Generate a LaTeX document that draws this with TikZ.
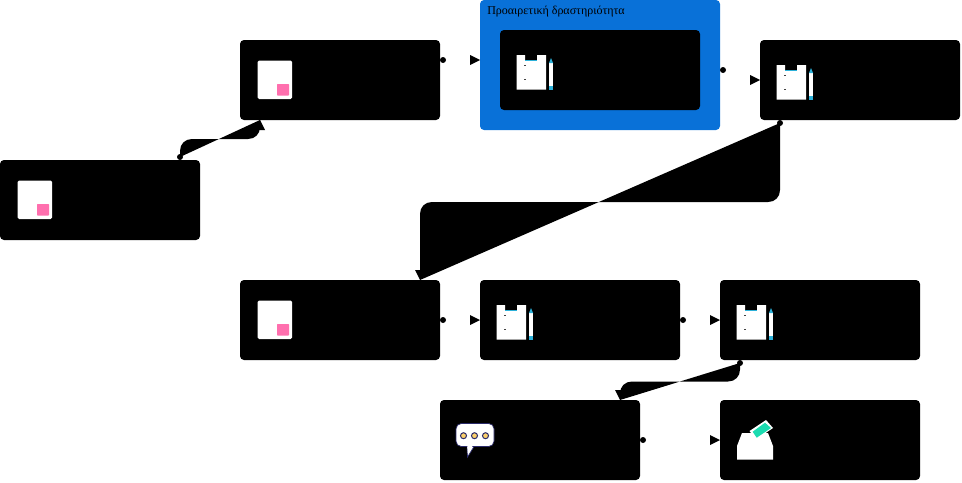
\documentclass[tikz,border=0pt]{standalone}
\usepackage{fontspec}
\setmainfont{Liberation Serif}
\usetikzlibrary{calc}
\definecolor{panelblue}{HTML}{0971D8}
\definecolor{pinksq}{HTML}{FF6FAE}
\definecolor{tealink}{HTML}{2BB0D8}
\definecolor{ticket}{HTML}{1BDBB0}
\definecolor{dotyellow}{HTML}{F9CF6B}
\definecolor{dotline}{HTML}{2A2A6A}
\tikzset{
  card/.style={anchor=north west,fill=black,rounded corners=3pt,minimum width=150pt,minimum height=60pt,inner sep=0pt,outer sep=0pt},
  panel/.style={anchor=north west,fill=panelblue,rounded corners=3pt,minimum width=180pt,minimum height=97.5pt,inner sep=0pt,outer sep=0pt},
  caption/.style={anchor=west,inner sep=0pt,text=black,font=\fontsize{9}{11}\selectfont},
  link/.style={fill=black,draw=none}
}
% small filled pieces of a connector
\newcommand{\startdot}[1]{\fill[link] (#1) circle[radius=3];}
\newcommand{\tipright}[1]{\fill[link] (#1) -- ++(-10,-5) -- ++(0,10) -- cycle;}
\newcommand{\tipup}[1]{\fill[link] (#1) -- ++(-5,10) -- ++(10,0) -- cycle;}
\newcommand{\tipdown}[1]{\fill[link] (#1) -- ++(-5,-10) -- ++(10,0) -- cycle;}
\newcommand{\iconsheet}[1]{\begin{scope}[shift={(#1.north west)}]
  \fill[white,rounded corners=1pt] (17.7,20.5) rectangle (52,59);
  \fill[pinksq,rounded corners=.5pt] (37,44) rectangle (49,55.5);
\end{scope}}
\newcommand{\iconclip}[1]{\begin{scope}[shift={(#1.north west)}]
  \fill[white] (16.7,25) -- (25,25) -- (25,30) -- (37,30) -- (37,25) -- (46,25) -- (46,59.5) -- (16.7,59.5) -- cycle;
  \fill[tealink] (25,30) rectangle (37,31);
  \fill[black!75] (24,35) rectangle (26,36);
  \fill[black!75] (24,48.5) rectangle (26,49.5);
  \fill[white] (49,33) rectangle (53,56);
  \fill[tealink] (49,33) -- (51,28) -- (53,33) -- cycle;
  \fill[tealink] (49,55.7) rectangle (53,59.5);
\end{scope}}
\newcommand{\iconspeech}[1]{\begin{scope}[shift={(#1.north west)}]
  \fill[white,draw=dotline,line width=.5pt] (27,45) -- (27.5,57) -- (35,45) -- cycle;
  \fill[white,draw=dotline,line width=.5pt,rounded corners=4pt] (16,23.5) rectangle (54,46.5);
  \fill[white] (27.4,44) -- (27.6,53) -- (34,44) -- cycle;
  \foreach \cx in {23.5,34.5,45.5} \fill[dotyellow,draw=dotline,line width=.75pt] (\cx,35.7) circle[radius=3];
\end{scope}}
\newcommand{\iconbox}[1]{\begin{scope}[shift={(#1.north west)}]
  \fill[white] (17,46) -- (22,33) -- (48,33) -- (53,46) -- (53,59.5) -- (17,59.5) -- cycle;
  \fill[white] (29.5,31) -- (46,20) -- (53,28) -- (36,39.5) -- cycle;
  \fill[ticket] (32.7,31.7) -- (45,22.7) -- (51,28) -- (36.7,37.7) -- cycle;
\end{scope}}
\begin{document}
\begin{tikzpicture}[x=.75pt,y=-.75pt]
\useasboundingbox (0,0) rectangle (962,482);
\node[panel] (group) at (480,0) {};
\node[caption] (grouplabel) at (487,12) {Προαιρετική δραστηριότητα};
\node[card] (a) at (0,160) {};
\node[card] (b) at (240,40) {};
\node[card] (c) at (500,30) {};
\node[card] (d) at (760,40) {};
\node[card] (e) at (240,280) {};
\node[card] (f) at (480,280) {};
\node[card] (g) at (720,280) {};
\node[card] (h) at (440,400) {};
\node[card] (i) at (720,400) {};
\iconsheet{a}\iconsheet{b}\iconsheet{e}
\iconclip{c}\iconclip{d}\iconclip{f}\iconclip{g}
\iconspeech{h}\iconbox{i}
% named connector ends
\coordinate (a1) at (180,157);
\coordinate (b1) at (260,120);
\coordinate (d1) at (780,123);
\coordinate (e1) at (420,280);
\coordinate (g1) at (740,363);
\coordinate (h1) at (620,400);
\coordinate (bs) at ($(b.north east)+(3,20)$);
\coordinate (gt) at ($(group.north west)+(0,60)$);
\coordinate (cs) at ($(c.east)+(23,0)$);
\coordinate (es) at ($(e.east)+(3,0)$);
\coordinate (fs) at ($(f.east)+(3,0)$);
\coordinate (hs) at ($(h.east)+(3,0)$);
% straight links: dot at the source, tip at the target
\startdot{bs}\tipright{gt}
\startdot{cs}\tipright{d.west}
\startdot{es}\tipright{f.west}
\startdot{fs}\tipright{g.west}
\startdot{hs}\tipright{i.west}
% elbow links are filled, as in the picture
\startdot{a1}\tipup{b1}
\fill[link] (a1) -- (180,151) .. controls (180,144) and (185,139) .. (192,139) -- (248,139) .. controls (255,139) and (260,134) .. (260,127) -- (b1) -- cycle;
\startdot{d1}\tipdown{e1}
\fill[link] (d1) -- (780,190) .. controls (780,197) and (775,202) .. (768,202) -- (432,202) .. controls (425,202) and (420,207) .. (420,214) -- (e1) -- cycle;
\startdot{g1}\tipdown{h1}
\fill[link] (g1) -- (740,369.5) .. controls (740,376.5) and (735,381.5) .. (728,381.5) -- (632,381.5) .. controls (625,381.5) and (620,386.5) .. (620,393.5) -- (h1) -- cycle;
\end{tikzpicture}
\end{document}
